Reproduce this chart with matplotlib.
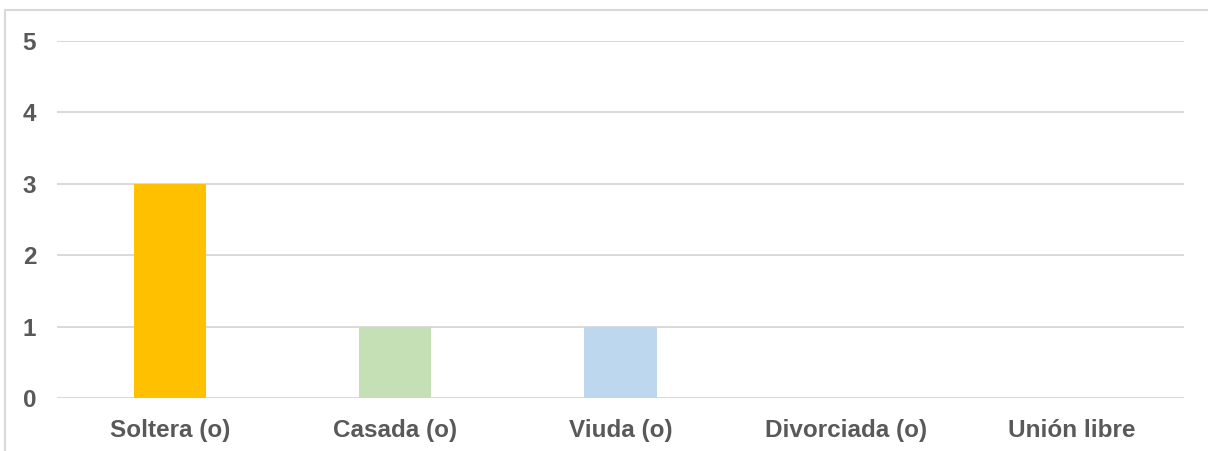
import matplotlib.pyplot as plt
from matplotlib.patches import Rectangle

categories = ['Soltera (o)', 'Casada (o)', 'Viuda (o)', 'Divorciada (o)', 'Unión libre']
values = [3, 1, 1, 0, 0]
colors = ['#FFC000', '#C5E0B4', '#BDD7EE', '#F4B183', '#A9D18E']
yticks = [0, 1, 2, 3, 4, 5]

plt.rcParams['font.family'] = ['Liberation Sans', 'DejaVu Sans']
W, H = 1208, 451
fig = plt.figure(figsize=(W/100, H/100), dpi=100)
ax = fig.add_axes([57/W, 1-398/H, (1184-57)/W, (398-41)/H])

x = range(len(categories))
ax.bar(x, values, width=0.32, color=colors, zorder=2)
ax.set_xlim(-0.5, len(categories)-0.5)
ax.set_ylim(0, 5)
ax.set_yticks(yticks)
ax.set_xticks(list(x))
ax.set_xticklabels(categories, fontsize=17.5, fontweight='bold', color='#595959')
ax.set_yticklabels([str(t) for t in yticks], fontsize=17.5, fontweight='bold', color='#595959')
ax.tick_params(length=0)
ax.tick_params(axis='x', pad=15)
ax.tick_params(axis='y', pad=15)
ax.yaxis.grid(True, color='#D9D9D9', lw=1.4, zorder=0)
for s in ax.spines.values():
    s.set_visible(False)

# chart outline
fig.patches.append(Rectangle((5/W, -0.1), 1.2, 1-10/H+0.1, transform=fig.transFigure,
                             fill=False, ec='#D9D9D9', lw=1.5))

fig.savefig('out.png', dpi=100)
